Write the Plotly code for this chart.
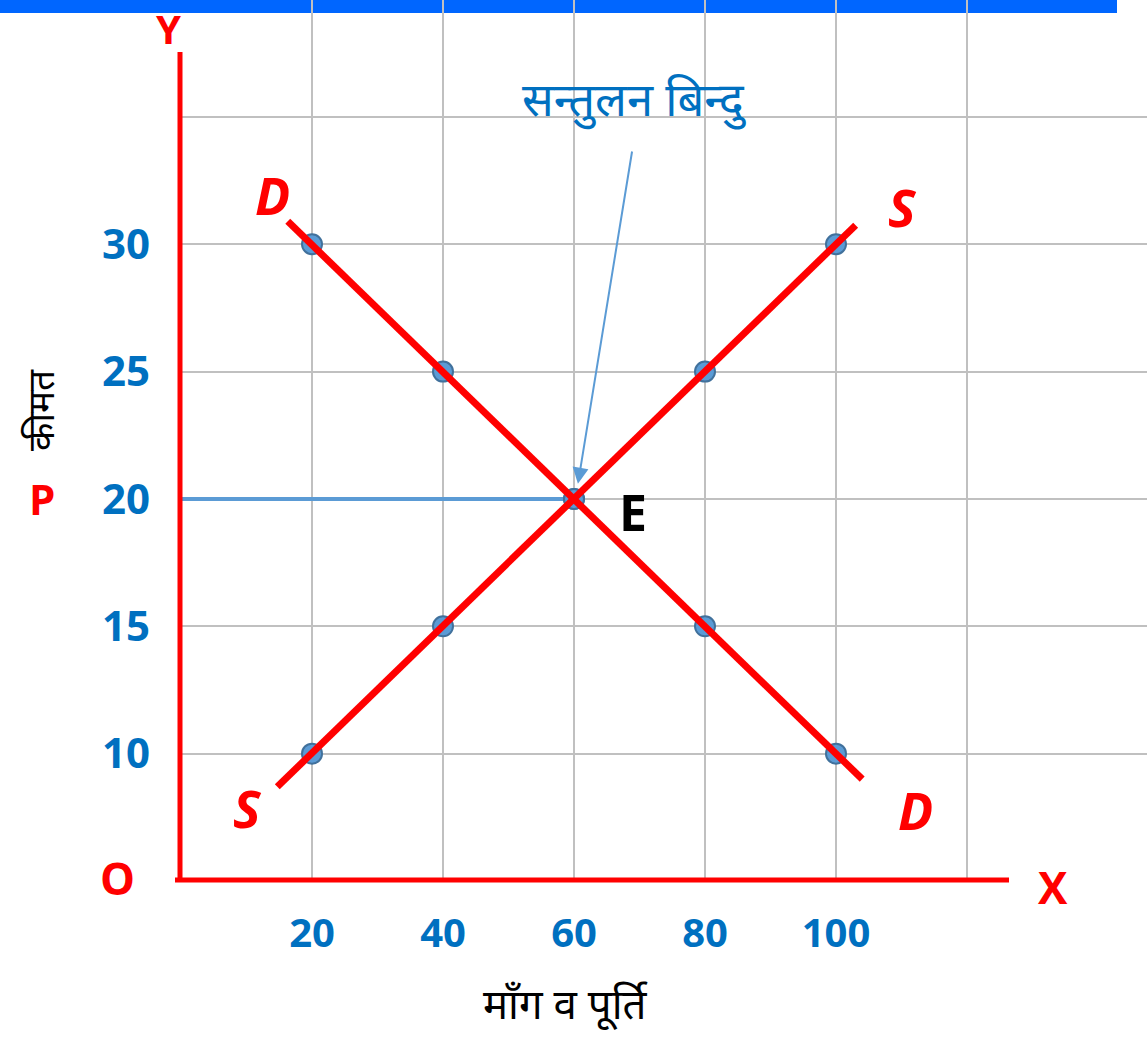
import plotly.graph_objects as go

# ---- data ----
qty = [20, 40, 60, 80, 100]
demand_price = [30, 25, 20, 15, 10]
supply_price = [10, 15, 20, 25, 30]
demand_line_x = [16.3, 104]
demand_line_y = [30.9, 9.0]
supply_line_x = [14.7, 103]
supply_line_y = [8.7, 30.75]
price_line_x = [0, 60]
price_line_y = [20, 20]
x_tickvals = [0, 20, 40, 60, 80, 100, 120]
x_ticktext = ["", "20", "40", "60", "80", "100", ""]
y_tickvals = [5, 10, 15, 20, 25, 30, 35]
y_ticktext = ["", "10", "15", "20", "25", "30", ""]

RED = "#FF0000"
BLUE_TXT = "#0070C0"
PT_FILL = "#5B9BD5"
PT_EDGE = "#41719C"
DEV = "Noto Sans Devanagari, Lohit Devanagari, FreeSans, Noto Sans, sans-serif"
LAT = "Open Sans, Lato, Noto Sans, sans-serif"

fig = go.Figure()

fig.add_trace(go.Scatter(x=price_line_x, y=price_line_y, mode="lines",
                         line=dict(color=PT_FILL, width=4), hoverinfo="skip", showlegend=False))
fig.add_trace(go.Scatter(x=qty, y=demand_price, mode="markers",
                         marker=dict(size=20, color=PT_FILL, line=dict(color=PT_EDGE, width=2)),
                         showlegend=False))
fig.add_trace(go.Scatter(x=qty, y=supply_price, mode="markers",
                         marker=dict(size=20, color=PT_FILL, line=dict(color=PT_EDGE, width=2)),
                         showlegend=False))
fig.add_trace(go.Scatter(x=demand_line_x, y=demand_line_y, mode="lines",
                         line=dict(color=RED, width=7), showlegend=False))
fig.add_trace(go.Scatter(x=supply_line_x, y=supply_line_y, mode="lines",
                         line=dict(color=RED, width=7), showlegend=False))

W, H = 1147, 1038
L, B = 181, 157
PW, PH = W - L, H - B


def px_x(p):
    return (p - L) / PW


def px_y(p):
    return (PH - p) / PH


# top blue bar
fig.add_shape(type="rect", xref="paper", yref="paper",
              x0=px_x(0), x1=px_x(1117), y0=px_y(13), y1=1.0,
              fillcolor="#0066FF", line=dict(width=0), layer="below")
# axes lines (red), drawn in paper space so they are not clipped
fig.add_shape(type="line", xref="paper", yref="paper", x0=px_x(180), x1=px_x(180),
              y0=px_y(52), y1=px_y(882), line=dict(color=RED, width=5))
fig.add_shape(type="line", xref="paper", yref="paper", x0=px_x(175), x1=px_x(1009),
              y0=px_y(880), y1=px_y(880), line=dict(color=RED, width=5))

ann = []
# arrow
ann.append(dict(x=60.6, y=20.6, ax=68.9, ay=33.7, xref="x", yref="y", axref="x", ayref="y",
                text="", showarrow=True, arrowhead=2, arrowsize=1.6, arrowwidth=2,
                arrowcolor=PT_FILL, standoff=0))
ann.append(dict(x=69.3, y=35.5, xref="x", yref="y", text="सन्तुलन बिन्दु", showarrow=False,
                xanchor="center", yanchor="middle",
                font=dict(family=DEV, size=47, color=BLUE_TXT)))
for txt, x, y in [("D", 13.9, 31.94), ("S", 110.2, 31.47), ("S", 10.2, 7.87), ("D", 112.1, 7.79)]:
    ann.append(dict(x=x, y=y, xref="x", yref="y", text=txt, showarrow=False,
                    xanchor="center", yanchor="middle",
                    font=dict(family=LAT, size=52, color=RED, style="italic", weight="bold")))
ann.append(dict(x=69, y=19.49, xref="x", yref="y", text="E", showarrow=False,
                xanchor="center", yanchor="middle",
                font=dict(family=LAT, size=50, color="black", weight="bold")))
# "Y" anchored to top edge so its box stays inside the page
ann.append(dict(x=px_x(168), y=1.0, xref="paper", yref="paper", text="Y", showarrow=False,
                xanchor="center", yanchor="top", borderpad=0,
                font=dict(family=LAT, size=40, color=RED, weight="bold")))
for txt, x, y, s in [("X", 1053, 887, 44), ("O", 117, 878, 44), ("P", 42, 498, 42)]:
    ann.append(dict(x=px_x(x), y=px_y(y), xref="paper", yref="paper", text=txt, showarrow=False,
                    xanchor="center", yanchor="middle",
                    font=dict(family=LAT, size=s, color=RED, weight="bold")))
ann.append(dict(x=px_x(44), y=px_y(410), xref="paper", yref="paper", text="कीमत", textangle=-90,
                xanchor="center", yanchor="middle",
                showarrow=False, font=dict(family=DEV, size=37, color="black")))
ann.append(dict(x=px_x(565), y=px_y(1008), xref="paper", yref="paper", text="माँग व पूर्ति",
                xanchor="center", yanchor="middle", borderpad=0,
                showarrow=False, font=dict(family=DEV, size=42, color="black")))

fig.update_layout(
    width=W, height=H,
    margin=dict(l=L, r=0, t=0, b=B, pad=0),
    paper_bgcolor="white", plot_bgcolor="white",
    annotations=ann,
    showlegend=False,
    xaxis=dict(range=[0, PW / 6.55], tickvals=x_tickvals, ticktext=x_ticktext,
               showgrid=True, gridcolor="#C0C0C0", gridwidth=2, zeroline=False, showline=False,
               ticks="", ticklabelstandoff=25,
               tickfont=dict(family=LAT, size=40, color=BLUE_TXT, weight="bold")),
    yaxis=dict(range=[5, 5 + PH / 25.47], tickvals=y_tickvals, ticktext=y_ticktext,
               showgrid=True, gridcolor="#C0C0C0", gridwidth=2, zeroline=False, showline=False,
               ticks="", ticklabelstandoff=30,
               tickfont=dict(family=LAT, size=42, color=BLUE_TXT, weight="bold")),
)

fig.write_html("out.html", config={"displayModeBar": False},
               post_script="document.body.style.margin='0';")
